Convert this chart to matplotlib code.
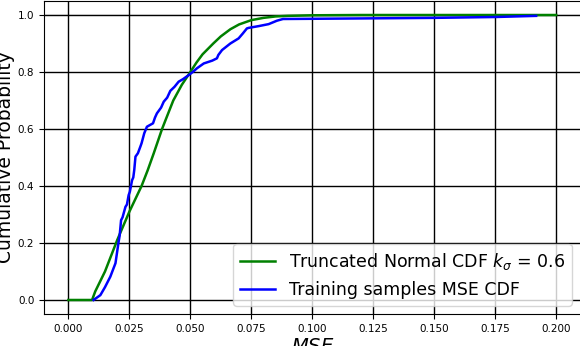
import matplotlib
matplotlib.use('Agg')
import matplotlib.pyplot as plt

# Truncated normal CDF
tn_mse = [0.0, 0.0097, 0.011, 0.013, 0.015, 0.0175, 0.020, 0.0225, 0.025, 0.0275,
          0.030, 0.0325, 0.035, 0.0384, 0.040, 0.043, 0.0465, 0.050, 0.0525, 0.055,
          0.0594, 0.0625, 0.0664, 0.070, 0.075, 0.080, 0.085, 0.090, 0.100, 0.120, 0.200]
tn_cdf = [0.0, 0.0, 0.03, 0.065, 0.10, 0.155, 0.21, 0.26, 0.31, 0.355,
          0.40, 0.455, 0.515, 0.60, 0.635, 0.70, 0.755, 0.80, 0.833, 0.862,
          0.90, 0.925, 0.95, 0.967, 0.982, 0.990, 0.995, 0.997, 0.999, 1.0, 1.0]

# empirical CDF of training sample MSE
train_mse = [0.0103, 0.0131, 0.0150, 0.0172, 0.0180, 0.0193, 0.0200, 0.0206, 0.0210,
             0.0216, 0.0222, 0.0234, 0.0240, 0.0247, 0.0252, 0.0261, 0.0266,
             0.0270, 0.0275, 0.0285, 0.0295, 0.0300, 0.0311, 0.0322, 0.0347, 0.0355,
             0.0363, 0.0380, 0.0391, 0.0405, 0.0418, 0.0435, 0.0452, 0.0470, 0.0493,
             0.0510, 0.0527, 0.0555, 0.0590, 0.0609, 0.0615, 0.0630, 0.0664, 0.0698,
             0.0715, 0.0732, 0.0740, 0.078, 0.0821, 0.0855, 0.088, 0.120, 0.150,
             0.175, 0.1918]
train_cdf = [0.0, 0.017, 0.045, 0.082, 0.10, 0.129, 0.17, 0.205, 0.225,
             0.28, 0.29, 0.327, 0.335, 0.368, 0.38, 0.42, 0.43,
             0.456, 0.503, 0.515, 0.538, 0.55, 0.585, 0.608, 0.62, 0.64,
             0.655, 0.675, 0.696, 0.71, 0.734, 0.748, 0.766, 0.775, 0.789,
             0.800, 0.813, 0.830, 0.840, 0.848, 0.860, 0.877, 0.90, 0.918,
             0.935, 0.953, 0.955, 0.961, 0.968, 0.98, 0.986, 0.988, 0.990,
             0.993, 0.997]

fig = plt.figure(figsize=(5.8, 3.46), dpi=100)
ax = fig.add_axes([0.0759, 0.0918, 0.925, 0.906])

ax.axhline(1.0, color='#eeeeee', lw=1.5, zorder=0)
ax.plot(tn_mse, tn_cdf, color='green', lw=1.8, label=r'Truncated Normal CDF $k_\sigma$ = 0.6')
ax.plot(train_mse, train_cdf, color='blue', lw=1.8, label='Training samples MSE CDF')

ax.set_xlim(-0.01, 0.21)
ax.set_ylim(-0.05, 1.05)
ax.set_xticks([0.0, 0.025, 0.05, 0.075, 0.1, 0.125, 0.15, 0.175, 0.2])
ax.set_yticks([0.0, 0.2, 0.4, 0.6, 0.8, 1.0])
ax.tick_params(labelsize=7.5)
ax.grid(True, color='black', lw=1.0)
ax.set_axisbelow(True)

ax.set_xlabel(r'$MSE$', fontsize=14, labelpad=2)
ax.set_ylabel('Cumulative Probability', fontsize=13.5, labelpad=2)
ax.legend(loc='lower right', fontsize=12.5)

fig.savefig('out.png', dpi=100)
